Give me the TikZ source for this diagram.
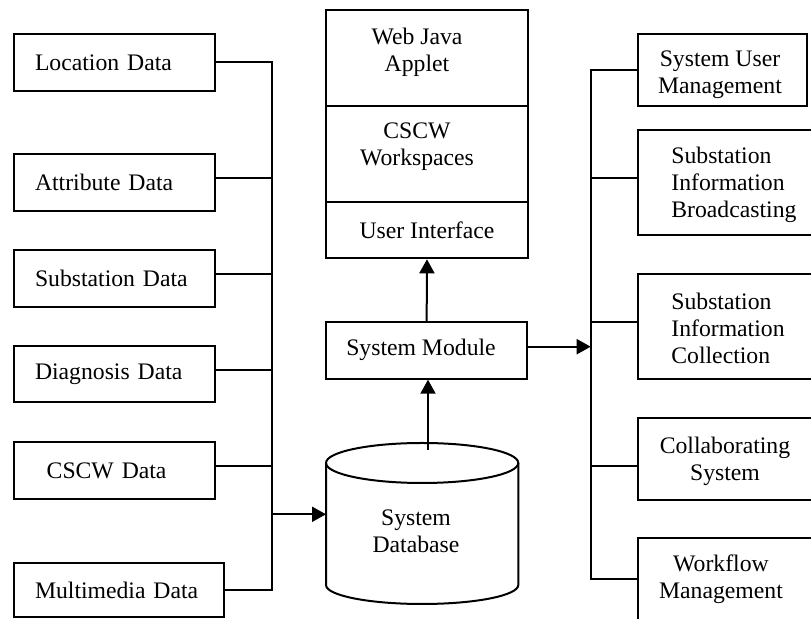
\documentclass[tikz,border=0pt]{standalone}
\usepackage{fontspec}
\setmainfont{Liberation Serif}
\usetikzlibrary{arrows.meta}
\begin{document}
\begin{tikzpicture}[x=0.5pt,y=-0.5pt,
  every node/.style={font=\fontsize{11.85pt}{13.5pt}\selectfont, inner sep=0pt},
  box/.style={draw, line width=1pt, rectangle, inner sep=0pt},
  lbox/.style={box, align=left, inner xsep=10.5pt, inner ysep=0pt, text width=#1},
  ln/.style={line width=1pt},
  arr/.style={line width=1pt, -{Triangle[length=7pt,width=7.5pt]}},
  txt/.style={align=center},
  ltxt/.style={align=left, anchor=west}
]
\useasboundingbox (0,0) rectangle (811,619);
\clip (0,0) rectangle (811,619);

% left data boxes
\node[lbox=79.5pt, minimum height=28.35pt] (loc) at (114.5,62.35) {Location Data};
\node[lbox=79.5pt, minimum height=28.35pt] (attr) at (114.5,182.35) {Attribute Data};
\node[lbox=79.5pt, minimum height=28.35pt] (sub) at (114.5,278.35) {Substation Data};
\node[lbox=79.5pt, minimum height=28pt] (diag) at (114.5,374) {Diagnosis Data};
\node[lbox=79.5pt, minimum height=28.5pt] (cscw) at (114.5,470.5) {\hspace*{5.85pt}CSCW Data};
\node[lbox=84pt, minimum height=27.4pt] (multi) at (119,590.1) {Multimedia Data};

% left bus
\coordinate (jmul) at (272,590);
\coordinate (ja) at (272,177.7);
\coordinate (js) at (272,274);
\coordinate (jd) at (272,370);
\coordinate (jc) at (272,465.7);
\coordinate (jdb) at (272,514.3);
\draw[ln] (loc.east) -| (jmul) -- (multi.east |- jmul);
\draw[ln] (attr.east |- ja) -- (ja);
\draw[ln] (sub.east |- js) -- (js);
\draw[ln] (diag.east |- jd) -- (jd);
\draw[ln] (cscw.east |- jc) -- (jc);

% centre stack
\node[box, minimum width=101pt, minimum height=48pt] (web) at (427,58) {};
\node[txt] (webt) at (417,52) {Web Java\\Applet};
\node[box, minimum width=101pt, minimum height=48pt] (cws) at (427,154) {};
\node[txt] (cwst) at (417,146.5) {CSCW\\Workspaces};
\node[box, minimum width=101pt, minimum height=28.15pt] (ui) at (427,230.15) {User Interface};

% system module
\node[box, minimum width=100.65pt, minimum height=28.2pt] (mod) at (426.65,350.5) {};
\node (modt) at (421,349.5) {System Module};

% database cylinder
\draw[ln] (326,463) -- (326,585) arc[start angle=180, end angle=360, x radius=48.075pt, y radius=9.5pt] -- (518.3,463);
\draw[ln] (422.15,463) ellipse [x radius=48.075pt, y radius=10pt];
\node[txt] (db) at (416,531) {System\\Database};
\coordinate (dbw) at (326,514.3);
\coordinate (dbtop) at (428,450);

% arrows
\draw[arr] (jdb) -- (dbw);
\draw[arr] (dbtop) -- (dbtop |- mod.south);
\draw[arr] (mod.north) -- (ui.south);
\coordinate (jr) at (590.7,346.7);
\draw[arr] (mod.east |- jr) -- (jr);

% right boxes
\node[box, minimum width=84.2pt, minimum height=36pt] (sum) at (722.5,70) {};
\node[txt] (sumt) at (720,75) {System User\\Management};
\node[box, minimum width=95.85pt, minimum height=52.65pt] (sib) at (734.15,182.65) {};
\node[ltxt] (sibt) at (671,185) {Substation\\Information\\Broadcasting};
\node[box, minimum width=95.85pt, minimum height=52.5pt] (sic) at (734.15,326.5) {};
\node[ltxt] (sict) at (671,328.5) {Substation\\Information\\Collection};
\node[box, minimum width=95.85pt, minimum height=41.3pt] (colab) at (734.15,459) {};
\node[txt] (colabt) at (725,461) {Collaborating\\System};
\node[box, minimum width=95.85pt, minimum height=50.85pt] (wf) at (734.15,589.15) {};
\node[txt] (wft) at (721,579) {Workflow\\Management};

% right bus
\coordinate (jwf) at (590.7,579);
\coordinate (j2) at (590.7,178);
\coordinate (j3) at (590.7,322.3);
\coordinate (j4) at (590.7,465.7);
\draw[ln] (sum.west) -| (jwf) -- (wf.west |- jwf);
\draw[ln] (sib.west |- j2) -- (j2);
\draw[ln] (sic.west |- j3) -- (j3);
\draw[ln] (colab.west |- j4) -- (j4);
\end{tikzpicture}
\end{document}
